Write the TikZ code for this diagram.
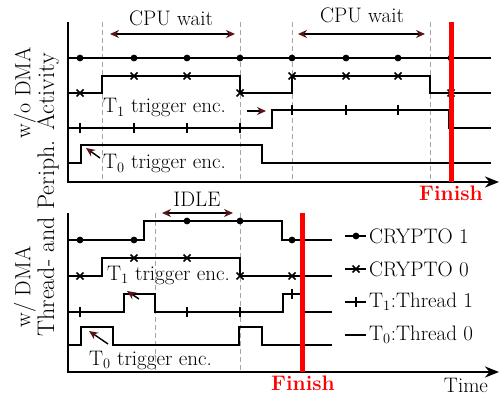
\documentclass[tikz,border=0pt]{standalone}
\usetikzlibrary{arrows.meta}
\definecolor{headc}{rgb}{0.35,0.08,0.1}
\begin{document}
\begin{tikzpicture}[x=1pt,y=-1pt,
  font=\fontsize{21}{24}\selectfont,
  sig/.style={line width=2.8pt},
  axis/.style={line width=2.6pt},
  guide/.style={gray!70, line width=1pt, dash pattern=on 5pt off 3pt},
  finishline/.style={red, line width=5pt},
  finishtxt/.style={text=red, font=\fontsize{21}{24}\selectfont\bfseries},
  lab/.style={-{Stealth[length=9pt,width=8pt,color=headc]}, line width=1.4pt},
  dlab/.style={{Stealth[length=9pt,width=8pt,color=headc]}-{Stealth[length=9pt,width=8pt,color=headc]}, line width=1.4pt},
  mdot/.pic={\fill (0,0) circle (3.4);},
  mx/.pic={\draw[line width=1.7pt] (-3.5,-3.5)--(3.5,3.5) (-3.5,3.5)--(3.5,-3.5);},
  mtick/.pic={\draw[line width=1.6pt] (0,-5)--(0,5);}
]
\useasboundingbox (0,0) rectangle (501,396);

% ---------- top plot ----------
\foreach \x in {102,240,292,430} \draw[guide] (\x,22) -- (\x,180);
\draw[axis,-{Stealth[length=14pt,width=11pt]}] (68,22) -- (68,182) -- (499,182);

\draw[sig] (68,58) -- (491,58);
\draw[sig] (68,93) -| (102,76) -| (240,93) -| (292,76) -| (430,93) -- (491,93);
\draw[sig] (68,128) -| (272,110) -| (449,128) -- (491,128);
\draw[sig] (68,163) -| (81,145) -| (262,163) -- (491,163);

\foreach \x in {80,134,187,240,292,346,398,451} \pic at (\x,58) {mdot};
\foreach \x/\y in {80/93,134/76,187/76,240/93,292/76,346/76,398/76,451/93} \pic at (\x,\y) {mx};
\foreach \x/\y in {80/128,134/128,187/128,240/128,292/110,346/110,398/110} \pic at (\x,\y) {mtick};

\draw[finishline] (451,22) -- (451,182);
\node[finishtxt] (fin1) at (451,193) {Finish};

\node (cpu1) at (171,18) {CPU wait};
\node (cpu2) at (362,15) {CPU wait};
\coordinate (c1a) at (110,34); \coordinate (c1b) at (235,34);
\coordinate (c2a) at (298,34); \coordinate (c2b) at (425,34);
\draw[dlab] (c1a) -- (c1b);
\draw[dlab] (c2a) -- (c2b);

\node[anchor=west, inner sep=0pt] (t1top) at (103,108) {T$_1$ trigger enc.};
\coordinate (t1ta) at (247,111); \coordinate (t1tb) at (266,111);
\draw[lab] (t1ta) -- (t1tb);
\node[anchor=west, inner sep=0pt] (t0top) at (103,164) {T$_0$ trigger enc.};
\coordinate (t0ta) at (100,158); \coordinate (t0tb) at (86,148);
\draw[lab] (t0ta) -- (t0tb);

% ---------- bottom plot ----------
\foreach \x in {155,240} \draw[guide] (\x,213) -- (\x,370);
\draw[axis,-{Stealth[length=14pt,width=11pt]}] (68,213) -- (68,372) -- (499,372);

\draw[sig] (68,240) -| (144,221) -| (282,240) -- (332,240);
\draw[sig] (68,276) -| (102,258) -| (240,276) -- (332,276);
\draw[sig] (68,312) -| (124,294) -| (155,312) -| (283,294) -| (302,312) -- (332,312);
\draw[sig] (68,345) -| (81,327) -| (113,345) -| (239,327) -| (262,345) -- (332,345);

\foreach \x/\y in {80/240,134/240,187/221,240/221,292/240} \pic at (\x,\y) {mdot};
\foreach \x/\y in {80/276,134/258,187/258,240/276,292/276} \pic at (\x,\y) {mx};
\foreach \x/\y in {80/312,187/312,240/312,292/294} \pic at (\x,\y) {mtick};

\draw[finishline] (302,213) -- (302,372);
\node[finishtxt] (fin2) at (303,383) {Finish};
\node (time) at (466,385) {Time};

\node (idle) at (197,199) {IDLE};
\coordinate (ia) at (162,213); \coordinate (ib) at (233,213);
\draw[dlab] (ia) -- (ib);

\node[anchor=west, inner sep=0pt] (t1bot) at (107,275) {T$_1$ trigger enc.};
\coordinate (t1ba) at (139,299); \coordinate (t1bb) at (127,291);
\draw[lab] (t1ba) -- (t1bb);
\node[anchor=west, inner sep=0pt] (t0bot) at (89,360) {T$_0$ trigger enc.};
\coordinate (t0ba) at (108,344); \coordinate (t0bb) at (89,331);
\draw[lab] (t0ba) -- (t0bb);

% legend
\draw[sig] (345,236) -- (366,236); \pic at (356,236) {mdot};
\node[anchor=west, inner sep=0pt] (lg1) at (369,236) {CRYPTO 1};
\draw[sig] (345,269) -- (366,269); \pic at (356,269) {mx};
\node[anchor=west, inner sep=0pt] (lg2) at (369,269) {CRYPTO 0};
\draw[sig] (345,302) -- (366,302); \pic at (356,302) {mtick};
\node[anchor=west, inner sep=0pt] (lg3) at (369,302) {T$_1$:Thread 1};
\draw[sig] (345,335) -- (366,335);
\node[anchor=west, inner sep=0pt] (lg4) at (369,335) {T$_0$:Thread 0};

% side labels
\node[rotate=90, font=\fontsize{22}{26}\selectfont] (wo) at (25,93) {w/o DMA};
\node[rotate=90, font=\fontsize{22}{26}\selectfont] (wd) at (25,287) {w/ DMA};
\node[rotate=90, font=\fontsize{24}{28}\selectfont] (act) at (48,195) {Thread- and Periph. Activity};
\end{tikzpicture}
\end{document}
